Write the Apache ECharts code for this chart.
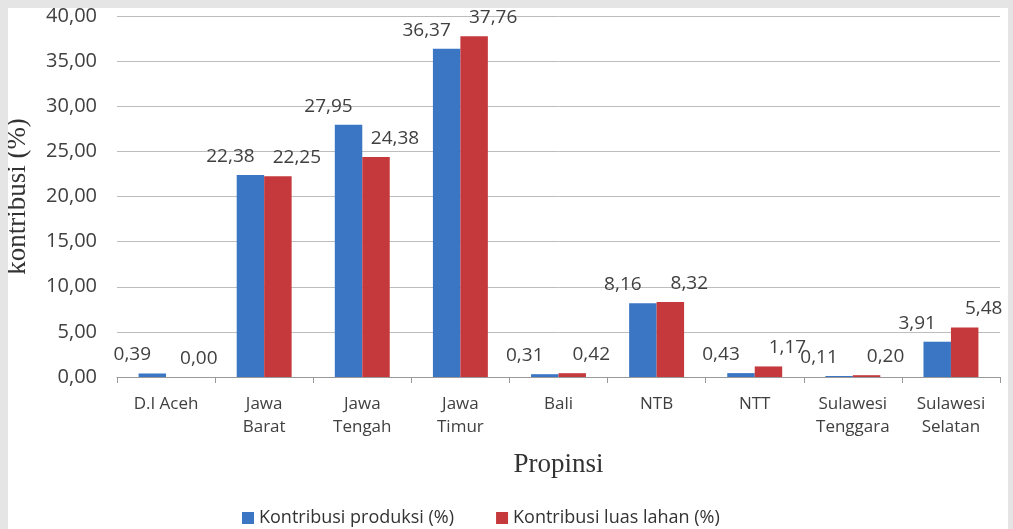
<!DOCTYPE html>
<html>
<head>
<meta charset="utf-8">
<script src="https://cdn.jsdelivr.net/npm/echarts@6/dist/echarts.min.js"></script>
<style>
html,body{margin:0;padding:0;background:#e5e5e5;width:1013px;height:529px;overflow:hidden;}
#chart{position:absolute;left:8px;top:8px;width:1000px;height:521px;background:#fff;}
</style>
</head>
<body>
<div id="chart"></div>
<script>
var categories = ['D.I Aceh', 'Jawa\nBarat', 'Jawa\nTengah', 'Jawa\nTimur', 'Bali', 'NTB', 'NTT', 'Sulawesi\nTenggara', 'Sulawesi\nSelatan'];
var produksi = [0.39, 22.38, 27.95, 36.37, 0.31, 8.16, 0.43, 0.11, 3.91];
var luasLahan = [0.00, 22.25, 24.38, 37.76, 0.42, 8.32, 1.17, 0.20, 5.48];
var seriesNames = ['Kontribusi produksi (%)', 'Kontribusi luas lahan (%)'];
var yTicks = {min: 0, max: 40, interval: 5};

function fmt(v){ return v.toFixed(2).replace('.', ','); }

var sans = "'Open Sans', 'Noto Sans', sans-serif";
var serif = "'Liberation Serif', 'DejaVu Serif', serif";

var chart = echarts.init(document.getElementById('chart'));
chart.setOption({
  animation: false,
  grid: {left: 109, top: 8, right: 8, bottom: 152, containLabel: false, outerBoundsMode: 'none'},
  legend: {
    top: 496, left: 229, itemWidth: 12, itemHeight: 12, itemGap: 42,
    icon: 'rect',
    textStyle: {fontFamily: sans, fontSize: 18, color: '#333'},
    data: seriesNames
  },
  xAxis: {
    type: 'category', data: categories,
    name: 'Propinsi', nameLocation: 'middle', nameGap: 74,
    nameTextStyle: {fontFamily: serif, fontSize: 27, color: '#333'},
    axisLine: {lineStyle: {color: '#999'}},
    axisTick: {show: true, length: 6, interval: 0, lineStyle: {color: '#999'}},
    axisLabel: {interval: 0, hideOverlap: false, fontFamily: sans, fontSize: 17, color: '#404040', lineHeight: 23, margin: 16}
  },
  yAxis: {
    type: 'value', min: yTicks.min, max: yTicks.max, interval: yTicks.interval,
    name: 'kontribusi (%)', nameLocation: 'middle', nameGap: 86,
    nameTextStyle: {fontFamily: serif, fontSize: 27, color: '#333'},
    axisLine: {show: false}, axisTick: {show: false},
    splitLine: {lineStyle: {color: '#bdbdbd', width: 1}},
    axisLabel: {fontFamily: sans, fontSize: 20, color: '#404040', margin: 20, formatter: function(v){ return fmt(v); }}
  },
  series: [
    {
      name: seriesNames[0], type: 'bar', data: produksi,
      barGap: '0%', barCategoryGap: '44%',
      itemStyle: {color: '#3a76c3'},
      label: {show: true, position: 'top', offset: [-20, -4], fontFamily: sans, fontSize: 19, color: '#404040',
        formatter: function(p){ return fmt(p.value); }}
    },
    {
      name: seriesNames[1], type: 'bar', data: luasLahan,
      barGap: '0%', barCategoryGap: '44%',
      itemStyle: {color: '#c5393c'},
      label: {show: true, position: 'top', offset: [19, -4], fontFamily: sans, fontSize: 19, color: '#404040',
        formatter: function(p){ return fmt(p.value); }}
    }
  ]
});
</script>
</body>
</html>
